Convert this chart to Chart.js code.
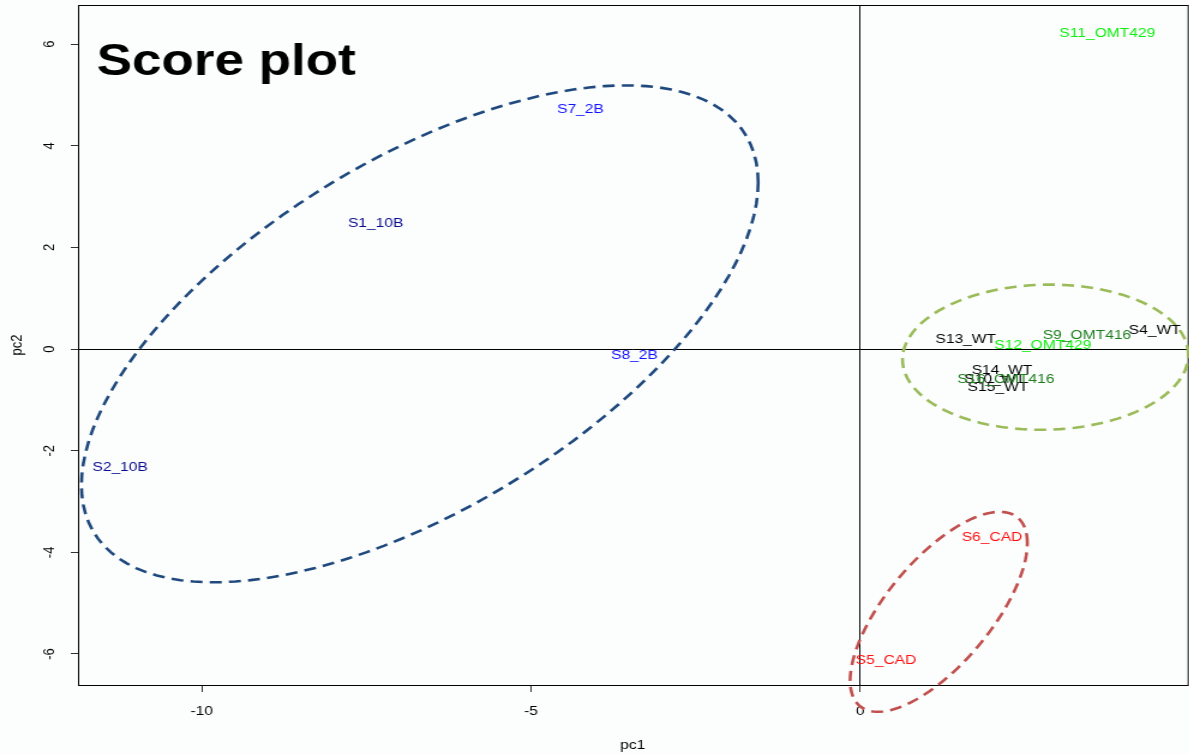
<!DOCTYPE html>
<html>
<head>
<meta charset="utf-8">
<script src="https://cdn.jsdelivr.net/npm/chart.js@4.4.1/dist/chart.umd.min.js"></script>
<style>
  html, body { margin: 0; padding: 0; background: #fcfefe; overflow: hidden; }
  /* the original picture is stretched sideways, so the canvas is too */
  #wrap { width: 991px; height: 754px; transform: scaleX(1.2); transform-origin: 0 0; }
</style>
</head>
<body>
<div id="wrap"><canvas id="scorePlot"></canvas></div>
<script>
const plotTitle = 'Score plot';

// sample scores (pc1, pc2) and label colours
const sampleNames = ['S1_10B', 'S2_10B', 'S7_2B', 'S8_2B', 'S5_CAD', 'S6_CAD',
  'S11_OMT429', 'S12_OMT429', 'S9_OMT416', 'S4_WT', 'S13_WT',
  'S10_WT', 'S14_WT', 'S15_WT', 'S16_OMT416'];
const pc1 = [-7.36, -11.24, -4.25, -3.43, 0.39, 2.00,
  3.75, 2.77, 3.44, 4.47, 1.60,
  2.04, 2.15, 2.09, 2.21];
const pc2 = [2.48, -2.33, 4.71, -0.12, -6.13, -3.70,
  6.22, 0.08, 0.26, 0.36, 0.18,
  -0.59, -0.43, -0.75, -0.59];
const labelColors = ['#0a0a8c', '#0a0a8c', '#1010ff', '#1010ff', '#ff1010', '#ff1010',
  '#10ee10', '#10ee10', '#1e7e1e', '#000000', '#000000',
  '#000000', '#000000', '#000000', '#1e7e1e'];

const xTicks = [-10, -5, 0];
const yTicks = [-6, -4, -2, 0, 2, 4, 6];

// group ellipses: centre and spread (variance / covariance) in score units
const ellipseCenterX = [-6.69, 2.81, 1.19];
const ellipseCenterY = [0.30, -0.16, -5.17];
const ellipseVarX = [26.4, 4.71, 1.81];
const ellipseVarY = [23.9, 2.04, 3.87];
const ellipseCov = [15.3, 0.10, 1.82];
const ellipseColors = ['#1F497D', '#9BBB59', '#C0504D'];

const fontFamily = "'Liberation Sans', Arial, sans-serif";

function ellipseOutline(i) {
    const l11 = Math.sqrt(ellipseVarX[i]);
    const l21 = ellipseCov[i] / l11;
    const l22 = Math.sqrt(ellipseVarY[i] - l21 * l21);
    const pts = [];
    for (let k = 0; k <= 120; k++) {
        const t = k / 120 * 2 * Math.PI;
        pts.push({
            x: ellipseCenterX[i] + l11 * Math.cos(t),
            y: ellipseCenterY[i] + l21 * Math.cos(t) + l22 * Math.sin(t)
        });
    }
    return pts;
}

const ellipseSets = ellipseColors.map((c, i) => ({
    type: 'line',
    data: ellipseOutline(i),
    borderColor: c,
    borderWidth: 2.6,
    borderDash: [10, 6],
    pointRadius: 0,
    fill: false,
    tension: 0,
    clip: false
}));

const sampleSet = {
    type: 'scatter',
    data: pc1.map((v, i) => ({ x: v, y: pc2[i] })),
    pointRadius: 0,
    pointHoverRadius: 0
};

// plot frame
const framePlugin = {
    id: 'frame',
    beforeDatasetsDraw(chart) {
        const { ctx, chartArea: a } = chart;
        ctx.save();
        ctx.strokeStyle = '#000';
        ctx.lineWidth = 1;
        ctx.strokeRect(a.left + 0.5, a.top + 0.5, a.right - a.left, a.bottom - a.top);
        ctx.restore();
    }
};

// sample names written at their scores
const textLabels = {
    id: 'textLabels',
    afterDatasetsDraw(chart) {
        const ctx = chart.ctx;
        const xs = chart.scales.x, ys = chart.scales.y;
        ctx.save();
        ctx.font = '13px ' + fontFamily;
        ctx.textAlign = 'center';
        ctx.textBaseline = 'middle';
        sampleNames.forEach((name, i) => {
            ctx.fillStyle = labelColors[i];
            ctx.fillText(name, xs.getPixelForValue(pc1[i]), ys.getPixelForValue(pc2[i]));
        });
        ctx.restore();
    }
};

const bigTitle = {
    id: 'bigTitle',
    afterDraw(chart) {
        const ctx = chart.ctx;
        ctx.save();
        ctx.font = 'bold 44px ' + fontFamily;
        ctx.fillStyle = '#000';
        ctx.textBaseline = 'alphabetic';
        const w = ctx.measureText(plotTitle).width;
        ctx.translate(chart.chartArea.left + 15.5, 75);
        ctx.scale(216 / w, 1);
        ctx.fillText(plotTitle, 0, 0);
        ctx.restore();
    }
};

const zeroLine = c => (c.tick && c.tick.value === 0) ? '#000' : 'rgba(0,0,0,0)';

new Chart(document.getElementById('scorePlot'), {
    data: { datasets: [...ellipseSets, sampleSet] },
    options: {
        responsive: true,
        maintainAspectRatio: false,
        animation: false,
        devicePixelRatio: 1,
        layout: { padding: { top: 5, left: 0, right: 0, bottom: 0 } },
        plugins: { legend: { display: false }, tooltip: { enabled: false } },
        scales: {
            x: {
                type: 'linear',
                min: -11.88,
                max: 4.97,
                afterBuildTicks: s => { s.ticks = xTicks.map(v => ({ value: v })); },
                afterFit: s => { s.height = 69; s.paddingLeft = 0; s.paddingRight = 0; },
                grid: { drawOnChartArea: true, color: zeroLine, lineWidth: 1, tickColor: '#333', tickLength: 7 },
                border: { display: true, color: '#000', width: 1 },
                ticks: { color: '#000', padding: 12, maxRotation: 0, font: { size: 13, family: fontFamily } },
                title: { display: true, text: 'pc1', color: '#000', padding: { top: 0, bottom: 1 }, font: { size: 13, family: fontFamily } }
            },
            y: {
                type: 'linear',
                min: -6.61,
                max: 6.77,
                afterBuildTicks: s => { s.ticks = yTicks.map(v => ({ value: v })); },
                afterFit: s => { s.width = 65; s.paddingTop = 0; s.paddingBottom = 0; },
                grid: { drawOnChartArea: true, color: zeroLine, lineWidth: 1, tickColor: '#333', tickLength: 6 },
                border: { display: true, color: '#000', width: 1 },
                ticks: { color: '#000', padding: 11.5, minRotation: 90, maxRotation: 90, crossAlign: 'center', font: { size: 13, family: fontFamily } },
                title: { display: true, text: 'pc2', color: '#000', padding: { top: 7, bottom: 0 }, font: { size: 13, family: fontFamily } }
            }
        }
    },
    plugins: [framePlugin, textLabels, bigTitle]
});
</script>
</body>
</html>
